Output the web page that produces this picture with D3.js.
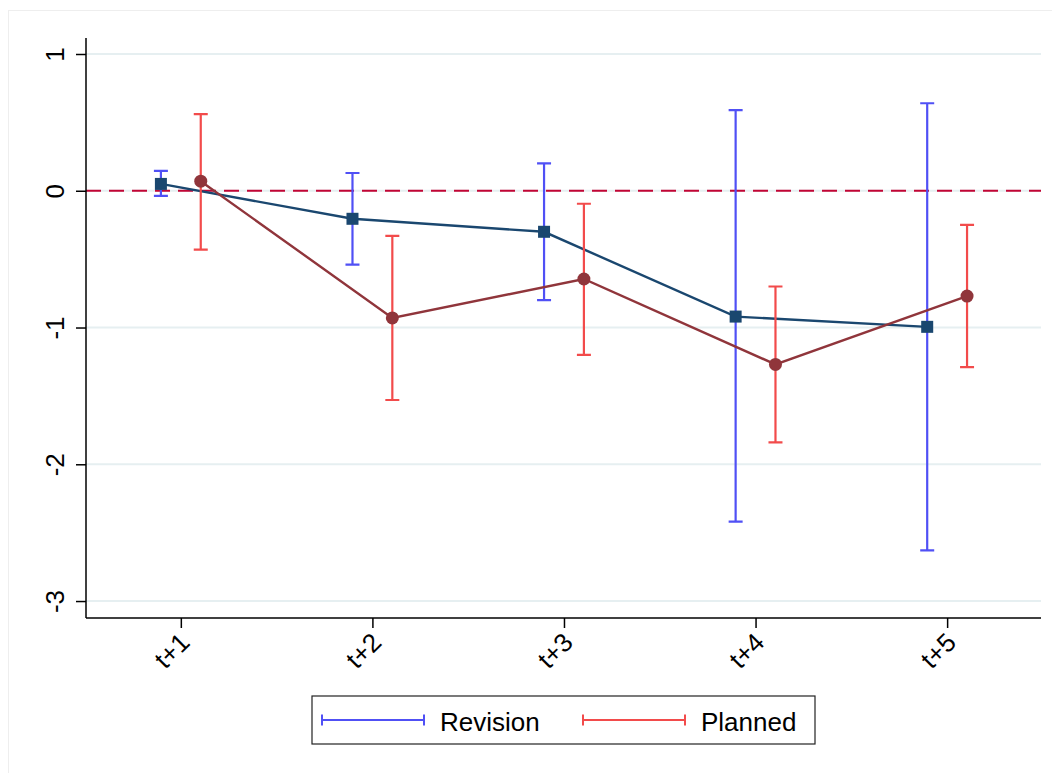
<!DOCTYPE html>
<html>
<head>
<meta charset="utf-8">
<script src="https://cdn.jsdelivr.net/npm/d3@7"></script>
<style>
  body { margin: 0; background: #fff; }
  svg text { font-family: "Liberation Sans", Arial, Helvetica, sans-serif; }
</style>
</head>
<body>
<svg id="chart" width="1052" height="773"></svg>
<script>
// Horizons and estimates
const horizons   = ["t+1", "t+2", "t+3", "t+4", "t+5"];
const revEst     = [0.05, -0.205, -0.30, -0.92, -0.995];
const revLo      = [-0.037, -0.54, -0.80, -2.42, -2.63];
const revHi      = [0.146, 0.13, 0.20, 0.59, 0.64];
const planEst    = [0.07, -0.93, -0.645, -1.27, -0.77];
const planLo     = [-0.43, -1.53, -1.20, -1.84, -1.29];
const planHi     = [0.56, -0.33, -0.095, -0.70, -0.25];
const yTicks     = [1, 0, -1, -2, -3];

const svg = d3.select("#chart");
const plot = { left: 86, right: 1041, top: 38, bottom: 618 };

const x = d3.scaleLinear().domain([0.505, 5.49]).range([plot.left, plot.right]);
const y = d3.scaleLinear().domain([-3.124, 1.117]).range([plot.bottom, plot.top]);
const off = 0.104;

// outer frame
svg.append("rect")
  .attr("x", 8.5).attr("y", 10.5).attr("width", 1052).attr("height", 800)
  .attr("fill", "none").attr("stroke", "#eeeeee");

// gridlines
svg.append("g").selectAll("line").data(yTicks).join("line")
  .attr("x1", plot.left).attr("x2", plot.right)
  .attr("y1", d => y(d)).attr("y2", d => y(d))
  .attr("stroke", "#e6eff1").attr("stroke-width", 2);

// zero reference
svg.append("line")
  .attr("x1", plot.left).attr("x2", plot.right)
  .attr("y1", y(0)).attr("y2", y(0))
  .attr("stroke", "#c10534").attr("stroke-width", 2)
  .attr("stroke-dasharray", "15,8");

// axes
const yAxis = svg.append("g")
  .attr("transform", `translate(${plot.left},0)`)
  .call(d3.axisLeft(y).tickValues(yTicks).tickSize(10).tickPadding(0).tickFormat(d => String(d)));
yAxis.attr("font-size", null).attr("font-family", null);
yAxis.select(".domain").attr("d", `M0,${plot.top}V${plot.bottom}`).attr("stroke-width", 1.5);
yAxis.selectAll(".tick line").attr("stroke-width", 1.5);
yAxis.selectAll(".tick text")
  .style("font-size", "26px").attr("fill", "#000")
  .attr("text-anchor", "middle")
  .attr("x", 0).attr("dy", 0)
  .attr("transform", "translate(-31,0) rotate(-90)")
  .attr("dominant-baseline", "central");

const xAxis = svg.append("g")
  .attr("transform", `translate(0,${plot.bottom})`)
  .call(d3.axisBottom(x).tickValues([1, 2, 3, 4, 5]).tickSize(10).tickFormat(d => horizons[d - 1]));
xAxis.attr("font-size", null).attr("font-family", null);
xAxis.select(".domain").attr("d", `M${plot.left},0H${plot.right}`).attr("stroke-width", 1.5);
xAxis.selectAll(".tick line").attr("stroke-width", 1.5);
xAxis.selectAll(".tick text")
  .style("font-size", "26px").attr("fill", "#000")
  .attr("text-anchor", "end")
  .attr("y", 0).attr("dy", 0)
  .attr("transform", "translate(10,26) rotate(-45)");

// error bars + series
function series(est, lo, hi, dx, ciColor, lineColor, marker) {
  const g = svg.append("g");
  const idx = d3.range(est.length);
  const cap = 7;
  g.selectAll(".ci").data(idx).join("path")
    .attr("d", i => {
      const cx = x(i + 1 + dx);
      return `M${cx},${y(lo[i])}V${y(hi[i])}M${cx - cap},${y(hi[i])}H${cx + cap}M${cx - cap},${y(lo[i])}H${cx + cap}`;
    })
    .attr("fill", "none").attr("stroke", ciColor).attr("stroke-width", 2.2);
  g.append("path")
    .datum(idx)
    .attr("d", d3.line().x(i => x(i + 1 + dx)).y(i => y(est[i])))
    .attr("fill", "none").attr("stroke", lineColor).attr("stroke-width", 2.4);
  if (marker === "square") {
    g.selectAll(".m").data(idx).join("rect")
      .attr("x", i => x(i + 1 + dx) - 6).attr("y", i => y(est[i]) - 6)
      .attr("width", 12).attr("height", 12).attr("fill", lineColor);
  } else {
    g.selectAll(".m").data(idx).join("circle")
      .attr("cx", i => x(i + 1 + dx)).attr("cy", i => y(est[i]))
      .attr("r", 6.5).attr("fill", lineColor);
  }
}
series(revEst, revLo, revHi, -off, "#5050f5", "#1a476f", "square");
series(planEst, planLo, planHi, off, "#f24b4b", "#90353b", "circle");

// legend
const lg = svg.append("g");
lg.append("rect").attr("x", 312).attr("y", 696).attr("width", 503).attr("height", 48)
  .attr("fill", "#fff").attr("stroke", "#222").attr("stroke-width", 1.2);
const items = [
  { label: "Revision", color: "#5050f5", x0: 322 },
  { label: "Planned", color: "#f24b4b", x0: 583 }
];
items.forEach(it => {
  lg.append("path")
    .attr("d", `M${it.x0},720H${it.x0 + 102}M${it.x0},714.5V725.5M${it.x0 + 102},714.5V725.5`)
    .attr("stroke", it.color).attr("stroke-width", 2).attr("fill", "none");
  lg.append("text").attr("x", it.x0 + 118).attr("y", 731)
    .style("font-size", "26px").attr("fill", "#000").text(it.label);
});
</script>
</body>
</html>
